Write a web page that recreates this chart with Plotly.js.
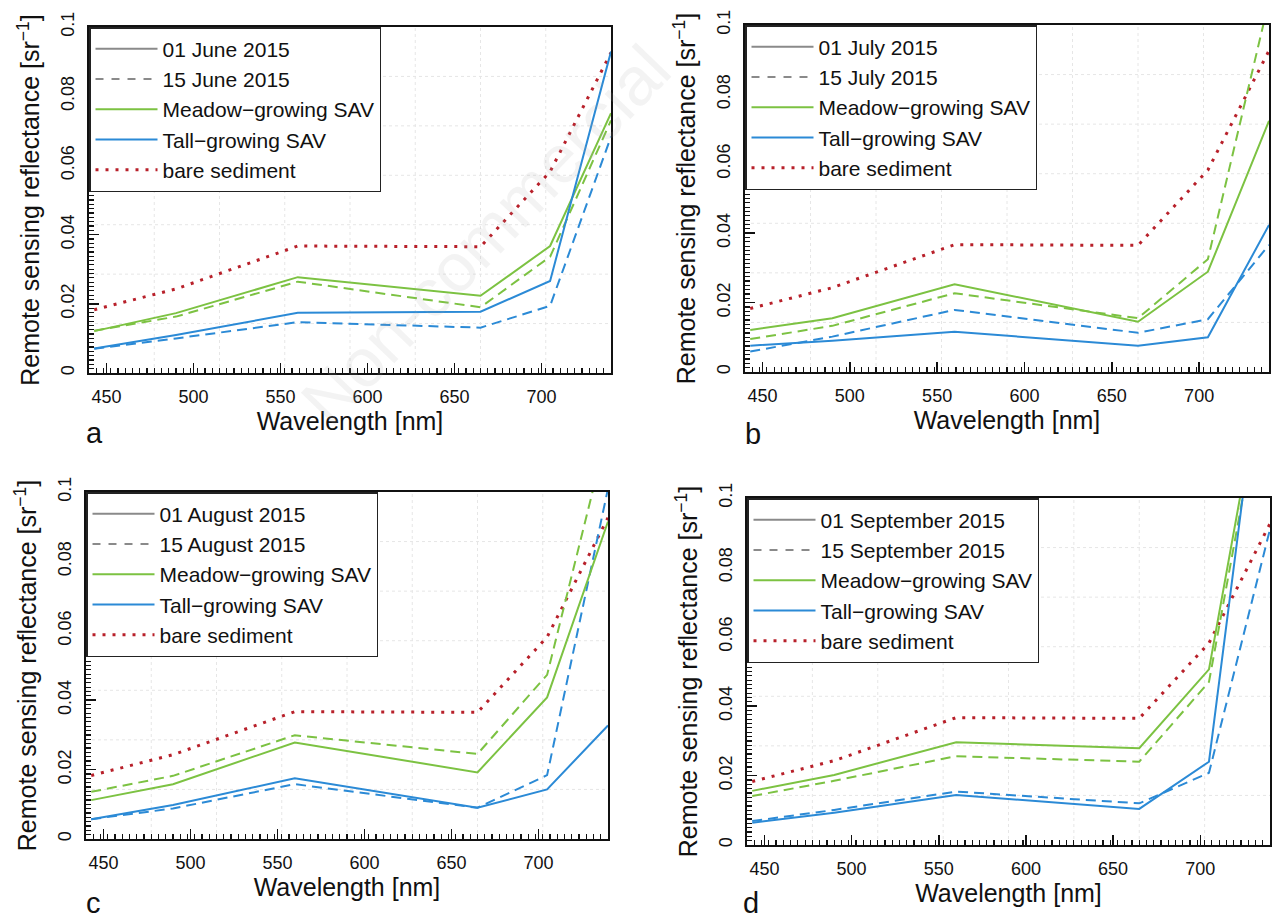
<!DOCTYPE html>
<html>
<head>
<meta charset="utf-8">
<script src="https://cdn.plot.ly/plotly-3.0.1.min.js"></script>
<style>html,body{margin:0;padding:0;background:#fff;}#chart{width:1274px;height:922px;}</style>
</head>
<body>
<div id="chart"></div>
<script>
// ---- data ----
const wavelengths = [443, 490, 560, 665, 705, 740];
const bareSediment = [0.0183, 0.0243, 0.0367, 0.0365, 0.0582, 0.0926];

const panelDates = [
  ["01 June 2015", "15 June 2015"],
  ["01 July 2015", "15 July 2015"],
  ["01 August 2015", "15 August 2015"],
  ["01 September 2015", "15 September 2015"]
];
const panelLetters = ["a", "b", "c", "d"];

const junMeadow01 = [0.0121, 0.0173, 0.0277, 0.0223, 0.0367, 0.0751];
const junMeadow15 = [0.0122, 0.0163, 0.0264, 0.0190, 0.0336, 0.0730];
const junTall01   = [0.0071, 0.0110, 0.0174, 0.0177, 0.0266, 0.0929];
const junTall15   = [0.0070, 0.0100, 0.0147, 0.0131, 0.0194, 0.0683];

const julMeadow01 = [0.0121, 0.0155, 0.0253, 0.0145, 0.0289, 0.0724];
const julMeadow15 = [0.0095, 0.0133, 0.0227, 0.0155, 0.0325, 0.1070];
const julTall01   = [0.0076, 0.0090, 0.0116, 0.0076, 0.0100, 0.0424];
const julTall15   = [0.0059, 0.0102, 0.0179, 0.0113, 0.0152, 0.0366];

const augMeadow01 = [0.0112, 0.0158, 0.0278, 0.0192, 0.0408, 0.0915];
const augMeadow15 = [0.0136, 0.0182, 0.0299, 0.0245, 0.0473, 0.1180];
const augTall01   = [0.0057, 0.0098, 0.0175, 0.0090, 0.0143, 0.0327];
const augTall15   = [0.0057, 0.0088, 0.0158, 0.0090, 0.0184, 0.1010];

const sepMeadow01 = [0.0156, 0.0202, 0.0296, 0.0279, 0.0506, 0.1480];
const sepMeadow15 = [0.0141, 0.0185, 0.0256, 0.0240, 0.0470, 0.1430];
const sepTall01   = [0.0064, 0.0093, 0.0144, 0.0104, 0.0240, 0.1620];
const sepTall15   = [0.0069, 0.0101, 0.0154, 0.0120, 0.0208, 0.0910];

const panelSeries = [
  [junMeadow01, junMeadow15, junTall01, junTall15],
  [julMeadow01, julMeadow15, julTall01, julTall15],
  [augMeadow01, augMeadow15, augTall01, augTall15],
  [sepMeadow01, sepMeadow15, sepTall01, sepTall15]
];

const xTickVals = [450, 500, 550, 600, 650, 700];
const yTickVals = [0, 0.02, 0.04, 0.06, 0.08, 0.1];

// ---- styling ----
const GREEN = "#7cc242";
const BLUE = "#2b8ad6";
const RED = "#b8202a";
const GRAY = "#8a8a8a";
const DASH = "10px,6px";
const DOT = "3px,7px";
const FONT = "Liberation Sans, Arial, sans-serif";
const W = 1274, H = 922;

// plot boxes in pixels [left, right, top, bottom]
const boxes = [
  [89, 611, 27, 373],
  [745, 1269, 25, 372],
  [86, 608, 492, 839],
  [747, 1270, 498, 845]
];
const letterPos = [[94, 433], [753, 434], [93, 903], [751, 903]];

const traces = [];
const layout = {
  width: W, height: H,
  margin: {l: 0, r: 0, t: 0, b: 0},
  paper_bgcolor: "#fff", plot_bgcolor: "#fff",
  font: {family: FONT, color: "#111"},
  showlegend: true,
  shapes: [], annotations: []
};

boxes.forEach((b, i) => {
  const n = i === 0 ? "" : String(i + 1);
  const xa = "x" + n, ya = "y" + n;
  const lg = "legend" + n;
  const [m01, m15, t01, t15] = panelSeries[i];

  // data traces
  const add = (y, color, dash, width) => traces.push({
    type: "scatter", mode: "lines", x: wavelengths, y: y, xaxis: xa, yaxis: ya,
    line: {color: color, dash: dash, width: width}, showlegend: false, hoverinfo: "skip"
  });
  add(bareSediment, RED, DOT, 3);
  add(m15, GREEN, DASH, 2);
  add(t15, BLUE, DASH, 2);
  add(m01, GREEN, "solid", 2);
  add(t01, BLUE, "solid", 2);

  // legend-only entries
  const leg = (name, color, dash, width) => traces.push({
    type: "scatter", mode: "lines", x: [null], y: [null], xaxis: xa, yaxis: ya,
    name: name, legend: lg, line: {color: color, dash: dash, width: width}, hoverinfo: "skip"
  });
  leg(panelDates[i][0], GRAY, "solid", 2);
  leg(panelDates[i][1], GRAY, "8px,8px", 2);
  leg("Meadow\u2212growing SAV", GREEN, "solid", 2);
  leg("Tall\u2212growing SAV", BLUE, "solid", 2);
  leg("bare sediment", RED, DOT, 3);

  const [l, r, t, bt] = b;
  layout["xaxis" + n] = {
    domain: [l / W, r / W], anchor: ya,
    range: [440, 740], tickmode: "array", tickvals: xTickVals,
    ticks: "inside", ticklen: 10, tickwidth: 1.5, tickcolor: "#111",
    showline: true, linecolor: "#111", linewidth: 2, mirror: true,
    showgrid: false, zeroline: false,
    tickfont: {size: 18, family: FONT, color: "#111"},
    ticklabelstandoff: 6,
    minor: {ticks: "inside", ticklen: 5, tickwidth: 1.2, tickcolor: "#111", tick0: 440, dtick: 50 / 12, showgrid: false},
    title: {text: "Wavelength [nm]", font: {size: 25, family: FONT, color: "#111"}, standoff: 5},
    fixedrange: true
  };
  layout["yaxis" + n] = {
    domain: [1 - bt / H, 1 - t / H], anchor: xa,
    range: [0, 0.1], tickmode: "array", tickvals: yTickVals,
    ticks: "inside", ticklen: 10, tickwidth: 1.5, tickcolor: "#111",
    showline: true, linecolor: "#111", linewidth: 2, mirror: true,
    showgrid: false, zeroline: false, tickangle: -90,
    tickfont: {size: 18, family: FONT, color: "#111"},
    ticklabelstandoff: 6,
    minor: {ticks: "inside", ticklen: 5, tickwidth: 1.2, tickcolor: "#111", tick0: 0, dtick: 0.00125, showgrid: false},
    title: {text: "Remote sensing reflectance [sr<sup>\u22121</sup>]", font: {size: 25, family: FONT, color: "#111"}, standoff: 11},
    fixedrange: true
  };
  layout[lg] = {
    x: l / W, y: 1 - t / H, xanchor: "left", yanchor: "top",
    xref: "paper", yref: "paper",
    bgcolor: "#fff", bordercolor: "#222", borderwidth: 1.5,
    font: {size: 21, family: FONT, color: "#111"},
    itemwidth: 62, tracegroupgap: 0, traceorder: "normal"
  };

  // faint dotted background grid
  for (let k = 1; k < 8; k++) {
    layout.shapes.push({type: "line", xref: xa + " domain", yref: ya + " domain",
      x0: k / 8, x1: k / 8, y0: 0, y1: 1, layer: "below",
      line: {color: "#e6e6e6", width: 1, dash: "dot"}});
  }
  for (let k = 1; k < 7; k++) {
    layout.shapes.push({type: "line", xref: xa + " domain", yref: ya + " domain",
      x0: 0, x1: 1, y0: k / 7, y1: k / 7, layer: "below",
      line: {color: "#e6e6e6", width: 1, dash: "dot"}});
  }

  layout.annotations.push({
    text: panelLetters[i], xref: "paper", yref: "paper",
    x: letterPos[i][0] / W, y: 1 - letterPos[i][1] / H,
    xanchor: "center", yanchor: "middle", showarrow: false,
    font: {size: 29, family: FONT, color: "#111"}
  });
});

// faint watermark
layout.annotations.push({
  text: "Non-commercial", xref: "paper", yref: "paper",
  x: 485 / W, y: 1 - 235 / H, xanchor: "center", yanchor: "middle",
  showarrow: false, textangle: -46,
  font: {size: 68, family: FONT, color: "rgba(170,170,170,0.14)"}
});

Plotly.newPlot("chart", traces, layout, {staticPlot: true, displayModeBar: false});
</script>
</body>
</html>
